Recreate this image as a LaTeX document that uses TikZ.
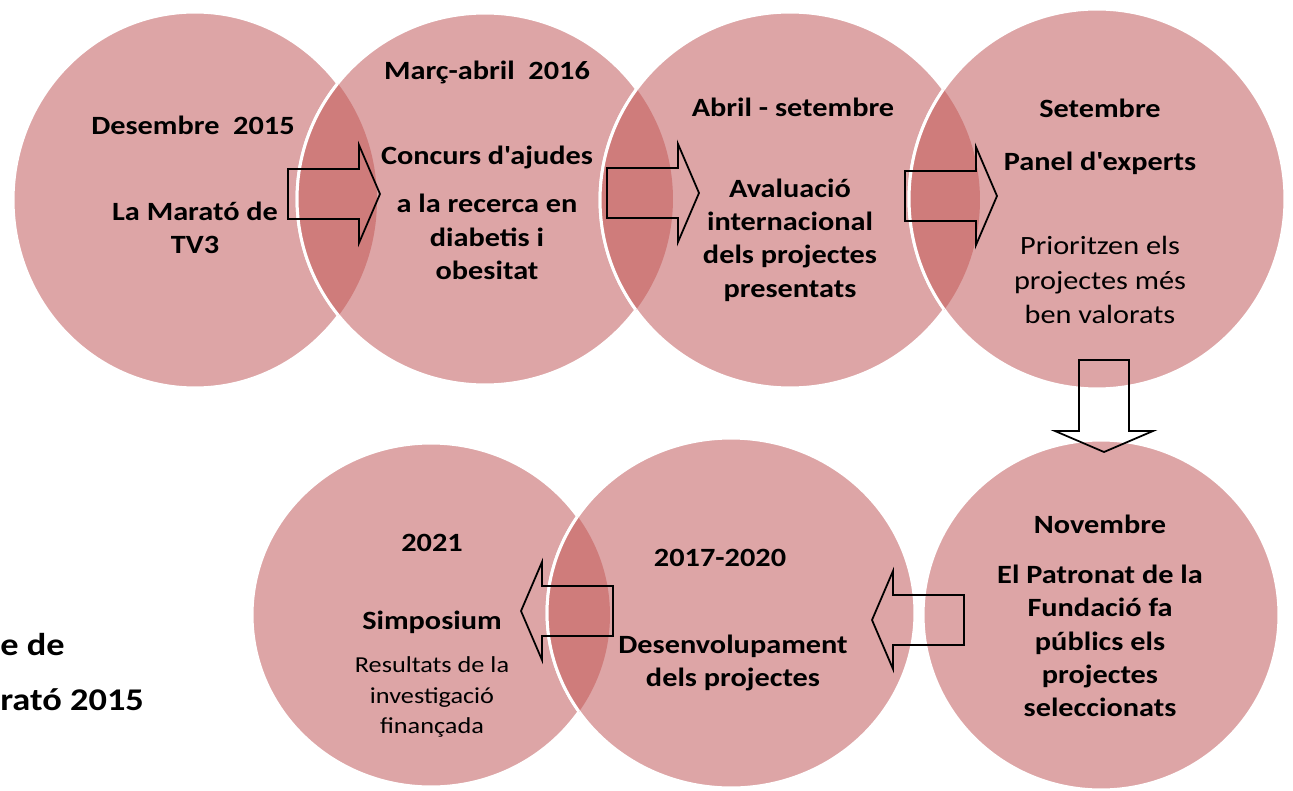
\documentclass[tikz,border=0pt]{standalone}
\usepackage{fontspec}
\setmainfont{Carlito}[FakeStretch=1.15]
\usetikzlibrary{shapes.geometric}

\definecolor{stagefill}{HTML}{DDA5A6}
\definecolor{lensfill}{HTML}{CF7C7B}

\tikzset{
  stage/.style={ellipse, fill=stagefill, draw=white, line width=1.7pt, inner sep=0pt},
  rim/.style={draw=white, line width=1.7pt},
  lens/.style={fill=lensfill},
  lbl/.style={font=\bfseries\fontsize{15}{19}\selectfont, align=center, inner sep=0pt},
  note/.style={font=\fontsize{15}{19.5}\selectfont, align=center, inner sep=0pt},
  smallnote/.style={font=\fontsize{13}{17.5}\selectfont, align=center, inner sep=0pt},
  titletext/.style={font=\bfseries\fontsize{18}{22}\selectfont, anchor=west, inner sep=0pt},
  arrowline/.style={draw=black, line width=1pt, line join=miter},
  blockarrow/.pic={\draw[arrowline] (0,-25) -- (71,-25) -- (71,-49) -- (92,0) -- (71,49) -- (71,25) -- (0,25) -- cycle;}
}

\begin{document}
\begin{tikzpicture}[x=0.02cm, y=-0.02cm]
    \useasboundingbox (0,0) rectangle (1293,790);

    % cercles de dalt
    \node[stage, minimum width=7.28cm, minimum height=7.52cm] (c1) at (195,200) {};
    \node[stage, minimum width=7.52cm, minimum height=7.44cm] (c2) at (485,199) {};
    \node[stage, minimum width=7.60cm, minimum height=7.52cm] (c3) at (790,200) {};
    \node[stage, minimum width=7.52cm, minimum height=7.60cm] (c4) at (1097,199) {};
    % cercles de baix
    \node[stage, minimum width=7.16cm, minimum height=6.88cm] (c7) at (431,615) {};
    \node[stage, minimum width=7.36cm, minimum height=7.00cm] (c6) at (731,613) {};
    \node[stage, minimum width=7.12cm, minimum height=7.00cm] (c5) at (1101,615) {};

    % zones on es trepitgen
    \begin{scope}
      \clip (c1.center) ellipse [x radius=3.64cm, y radius=3.76cm];
      \fill[lens] (c2.center) ellipse [x radius=3.76cm, y radius=3.72cm];
      \draw[rim] (c2.center) ellipse [x radius=3.76cm, y radius=3.72cm];
    \end{scope}
    \begin{scope}
      \clip (c2.center) ellipse [x radius=3.76cm, y radius=3.72cm];
      \fill[lens] (c3.center) ellipse [x radius=3.80cm, y radius=3.76cm];
      \draw[rim] (c3.center) ellipse [x radius=3.80cm, y radius=3.76cm];
    \end{scope}
    \begin{scope}
      \clip (c3.center) ellipse [x radius=3.80cm, y radius=3.76cm];
      \fill[lens] (c4.center) ellipse [x radius=3.76cm, y radius=3.80cm];
      \draw[rim] (c4.center) ellipse [x radius=3.76cm, y radius=3.80cm];
    \end{scope}
    \begin{scope}
      \clip (c7.center) ellipse [x radius=3.58cm, y radius=3.44cm];
      \fill[lens] (c6.center) ellipse [x radius=3.68cm, y radius=3.50cm];
      \draw[rim] (c6.center) ellipse [x radius=3.68cm, y radius=3.50cm];
    \end{scope}

    % textos
    \node[lbl] (d1) at (193,125) {Desembre~~2015};
    \node[lbl] (t1) at (195,228) {La Marató de\\TV3};

    \node[lbl] (d2) at (487,72) {Març-abril~~2016};
    \node[lbl] (h2) at (487,157) {Concurs d\textquotesingle ajudes};
    \node[lbl] (t2) at (487,237) {a la recerca en\\diabetis i\\obesitat};

    \node[lbl] (d3) at (793,107) {Abril - setembre};
    \node[lbl] (t3) at (790,240) {Avaluació\\internacional\\dels projectes\\presentats};

    \node[lbl] (d4) at (1100,108) {Setembre};
    \node[lbl] (h4) at (1100,163) {Panel d\textquotesingle experts};
    \node[note] (t4) at (1100,280) {Prioritzen els\\projectes més\\ben valorats};

    \node[lbl] (d5) at (1100,524) {Novembre};
    \node[lbl] (t5) at (1100,641) {El Patronat de la\\Fundació fa\\públics els\\projectes\\seleccionats};

    \node[lbl] (d6) at (720,558) {2017-2020};
    \node[lbl] (t6) at (733,663) {Desenvolupament\\dels projectes};

    \node[lbl] (d7) at (432,543) {2021};
    \node[lbl] (h7) at (432,622) {Simposium};
    \node[smallnote] (t7) at (432,697) {Resultats de la\\investigació\\finançada};

    \node[titletext] (title1) at (0,645) {e de};
    \node[titletext] (title2) at (0,700) {rató 2015};

    % fletxes
    \pic at (288,194) {blockarrow};
    \pic at (607,193) {blockarrow};
    \pic at (905,196) {blockarrow};
    \pic[rotate=-90] at (1104,360) {blockarrow};
    \pic[rotate=180] at (964,620) {blockarrow};
    \pic[rotate=180] at (613,611) {blockarrow};
\end{tikzpicture}
\end{document}
